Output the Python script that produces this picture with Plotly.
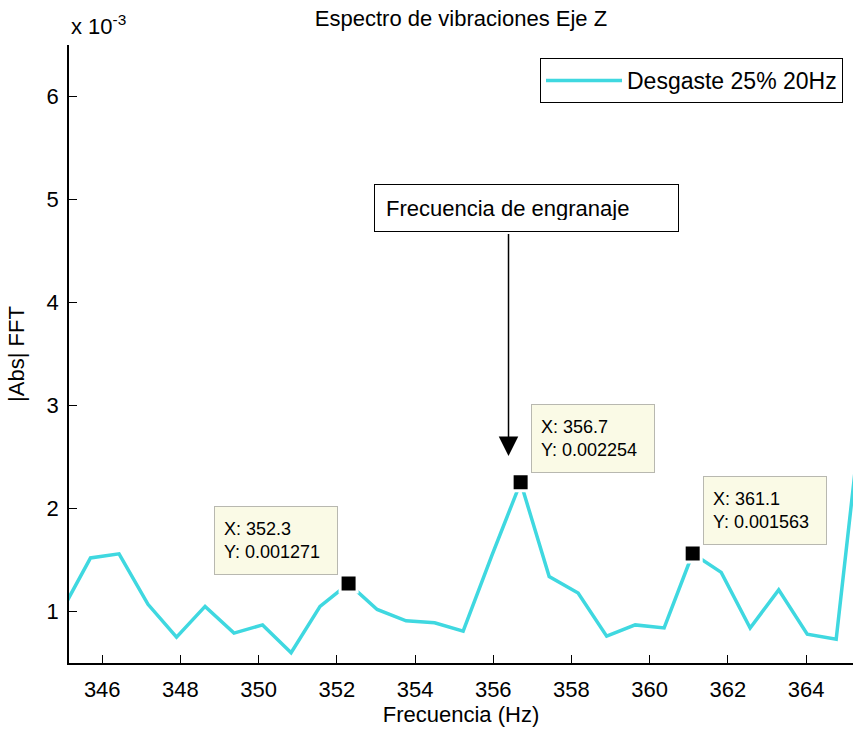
import plotly.graph_objects as go

# ---- data ----
freq_hz = [344.97, 345.70, 346.43, 347.17, 347.90, 348.63, 349.37, 350.10, 350.83,
           351.57, 352.30, 353.03, 353.77, 354.50, 355.23, 355.97, 356.70, 357.43,
           358.17, 358.90, 359.63, 360.37, 361.10, 361.83, 362.57, 363.30, 364.03,
           364.77, 365.50]
amp_e3 = [1.01, 1.52, 1.56, 1.07, 0.75, 1.05, 0.79, 0.87, 0.60,
          1.05, 1.271, 1.02, 0.91, 0.89, 0.81, 1.55, 2.254, 1.34,
          1.18, 0.76, 0.87, 0.84, 1.563, 1.38, 0.84, 1.21, 0.78,
          0.73, 3.20]
amp = [v * 1e-3 for v in amp_e3]

tip_x = [352.3, 356.7, 361.1]
tip_y = [0.001271, 0.002254, 0.001563]
tip_side = ["left", "right", "right"]

x_ticks = [346, 348, 350, 352, 354, 356, 358, 360, 362, 364]
y_ticks = [0.001, 0.002, 0.003, 0.004, 0.005, 0.006]
y_tick_text = ["1", "2", "3", "4", "5", "6"]

series_name = "Desgaste 25% 20Hz"
title_text = "Espectro de vibraciones Eje Z"
note_text = "Frecuencia de engranaje"

FONT = "Liberation Sans, Arial, Helvetica, sans-serif"
LINE_COLOR = "#3FD8E0"

fig = go.Figure()
fig.add_trace(go.Scatter(
    x=freq_hz, y=amp, mode="lines", name=series_name,
    line=dict(color=LINE_COLOR, width=3.5),
))
fig.add_trace(go.Scatter(
    x=tip_x, y=tip_y, mode="markers", showlegend=False,
    marker=dict(symbol="square", size=17, color="black",
                line=dict(color="white", width=3)),
))

annotations = []
for xv, yv, side in zip(tip_x, tip_y, tip_side):
    annotations.append(dict(
        x=xv, y=yv, xref="x", yref="y",
        text=f"X: {xv}<br>Y: {yv}",
        showarrow=False, align="left", valign="middle",
        xanchor="right" if side == "left" else "left",
        yanchor="bottom",
        xshift=-11 if side == "left" else 10, yshift=9,
        width=104, height=49, borderpad=9, borderwidth=1,
        bgcolor="#FAFAE6", bordercolor="#B8B8B0",
        font=dict(family=FONT, size=18, color="black"),
    ))

# note box
annotations.append(dict(
    x=356.86, y=0.00492, xref="x", yref="y", text=note_text,
    showarrow=False, align="left", valign="middle",
    width=281, height=24, borderpad=11, borderwidth=1,
    bgcolor="white", bordercolor="black",
    font=dict(family=FONT, size=22, color="black"),
))
# arrow
annotations.append(dict(
    x=356.39, y=0.00251, xref="x", yref="y",
    ax=356.39, ay=0.00468, axref="x", ayref="y",
    text="", showarrow=True, arrowhead=2, arrowsize=2.6,
    arrowwidth=1.5, arrowcolor="black",
))
# exponent label
annotations.append(dict(
    x=0, y=1, xref="paper", yref="paper", xanchor="left", yanchor="bottom",
    yshift=4, text="x 10<sup>-3</sup>", showarrow=False,
    font=dict(family=FONT, size=22, color="black"),
))

fig.update_layout(
    width=853, height=732,
    margin=dict(l=69, r=0, t=45, b=69),
    paper_bgcolor="white", plot_bgcolor="white",
    font=dict(family=FONT, size=22, color="black"),
    title=dict(text=title_text, x=0.5, xref="paper", y=1 - 18 / 732,
               yanchor="middle", xanchor="center",
               font=dict(family=FONT, size=22, color="black")),
    showlegend=True,
    legend=dict(x=(843 - 69) / 784, y=(663 - 58) / 618, xanchor="right", yanchor="top",
                bgcolor="white", bordercolor="black", borderwidth=1,
                font=dict(family=FONT, size=23, color="black"),
                itemwidth=76),
    annotations=annotations,
)
fig.update_xaxes(
    range=[345.15, 365.2], tickvals=x_ticks, ticks="inside", ticklen=8,
    tickcolor="black", showline=True, linecolor="black", linewidth=1.5,
    showgrid=False, zeroline=False, mirror=False,
    ticklabelstandoff=6,
    title=dict(text="Frecuencia (Hz)", standoff=4,
               font=dict(family=FONT, size=22, color="black")),
)
fig.update_yaxes(
    range=[0.0005, 0.0065], tickvals=y_ticks, ticktext=y_tick_text,
    ticks="inside", ticklen=8, tickcolor="black",
    showline=True, linecolor="black", linewidth=1.5,
    showgrid=False, zeroline=False, mirror=False,
    ticklabelstandoff=4,
    title=dict(text="|Abs| FFT", standoff=16,
               font=dict(family=FONT, size=22, color="black")),
)

fig.write_html("out.html")
